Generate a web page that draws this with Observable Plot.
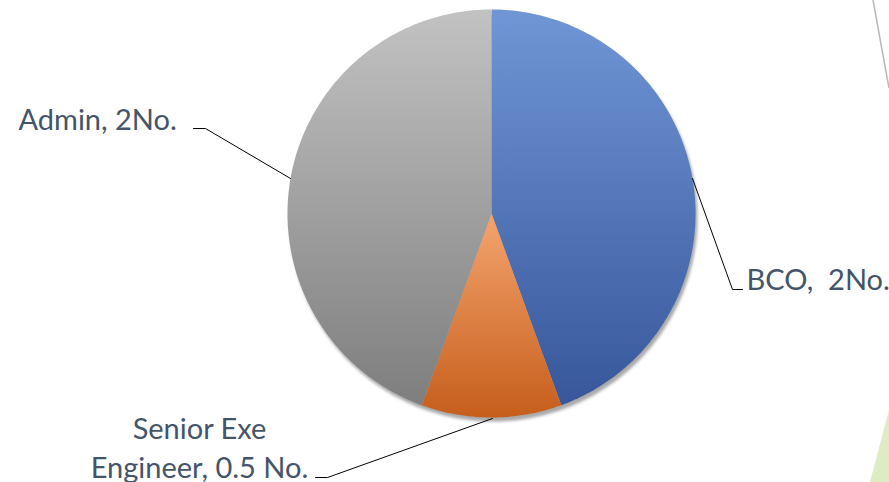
<!DOCTYPE html>
<html>
<head>
<meta charset="utf-8">
<script src="https://cdn.jsdelivr.net/npm/d3@7"></script>
<script src="https://cdn.jsdelivr.net/npm/@observablehq/plot@0.6"></script>
<style>
  html, body { margin: 0; padding: 0; background: #ffffff; }
  #chart svg { display: block; }
</style>
</head>
<body>
<div id="chart"></div>
<script>
// ---- data ----
const categories = ["BCO", "Senior Exe Engineer", "Admin"];
const values = [2, 0.5, 2];
const labels = ["BCO,\u00a0 2No.", "Senior Exe\nEngineer, 0.5 No.", "Admin, 2No."];
const gradTop = ["#7096d6", "#f4a46f", "#c2c2c2"];
const gradBottom = ["#37579a", "#c65e1b", "#7e7e7e"];

// ---- layout (pixels) ----
const W = 889, H = 482;
const CX = 491, CY = 213, R = 204;
const labelPos = [
  {x: 746, y: 289, anchor: "start"},
  {x: 199, y: 477, anchor: "middle"},
  {x: 18, y: 129, anchor: "start"}
];
const leaderPts = [
  [[742, 289], [732, 289], [692, 178]],
  [[315, 477], [327, 477], [492, 418]],
  [[193, 128], [205, 128], [290, 178]]
];

// ---- pie geometry from values ----
const arcs = d3.pie().sort(null).value(d => d)(values);
function slicePoints(a, i) {
  const pts = [{x: CX, y: CY, i}];
  const n = Math.max(4, Math.ceil((a.endAngle - a.startAngle) / (Math.PI / 180)));
  for (let k = 0; k <= n; k++) {
    const t = a.startAngle + (a.endAngle - a.startAngle) * k / n;
    pts.push({x: CX + R * Math.sin(t), y: CY - R * Math.cos(t), i});
  }
  pts.push({x: CX, y: CY, i});
  return pts;
}
const slices = arcs.map((a, i) => slicePoints(a, i));
const circle = d3.range(0, 361).map(k => {
  const t = k * Math.PI / 180;
  return {x: CX + R * Math.sin(t), y: CY - R * Math.cos(t)};
});

const defs = () => {
  const d = d3.create("svg:defs");
  categories.forEach((c, i) => {
    const g = d.append("linearGradient").attr("id", "g" + i)
      .attr("x1", 0).attr("y1", 0).attr("x2", 0).attr("y2", 1);
    g.append("stop").attr("offset", "0%").attr("stop-color", gradTop[i]);
    g.append("stop").attr("offset", "100%").attr("stop-color", gradBottom[i]);
  });
  const f = d.append("filter").attr("id", "blur").attr("x", "-10%").attr("y", "-10%").attr("width", "120%").attr("height", "120%");
  f.append("feGaussianBlur").attr("stdDeviation", 1.5);
  return d.node();
};

const deco = () => {
  const g = d3.create("svg:g");
  g.append("line").attr("x1", 873).attr("y1", 0).attr("x2", 889).attr("y2", 88)
    .attr("stroke", "#b8b8b8").attr("stroke-width", 1.5);
  g.append("path").attr("d", "M870,482 L889,410 L889,482 Z").attr("fill", "#ddecc3");
  return g.node();
};

const chart = Plot.plot({
  width: W,
  height: H,
  margin: 0,
  x: {type: "linear", domain: [0, W], range: [0, W], axis: null},
  y: {type: "linear", domain: [0, H], range: [0, H], axis: null},
  style: {background: "white", overflow: "visible"},
  marks: [
    defs,
    deco,
    Plot.line(circle, {x: "x", y: "y", fill: "#9a9a9a", stroke: "none", dx: 2, dy: 4, fillOpacity: 0.85}),
    ...slices.map((s, i) => Plot.line(s, {x: "x", y: "y", fill: `url(#g${i})`, stroke: "none", curve: "linear"})),
    ...leaderPts.map(p => Plot.line(p.map(([x, y]) => ({x, y})), {x: "x", y: "y", stroke: "#000000", strokeWidth: 1})),
    ...labels.map((t, i) => Plot.text([t], {
      x: () => labelPos[i].x, y: () => labelPos[i].y, text: d => d,
      textAnchor: labelPos[i].anchor, lineAnchor: "bottom", lineHeight: 1.34,
      fontSize: 29, fontFamily: "Lato", fill: "#44546a"
    }))
  ]
});
// blur the shadow disc
const svg = d3.select(chart);
svg.selectAll("g[fill='#9a9a9a']").attr("filter", "url(#blur)");
document.getElementById("chart").appendChild(chart);
</script>
</body>
</html>
